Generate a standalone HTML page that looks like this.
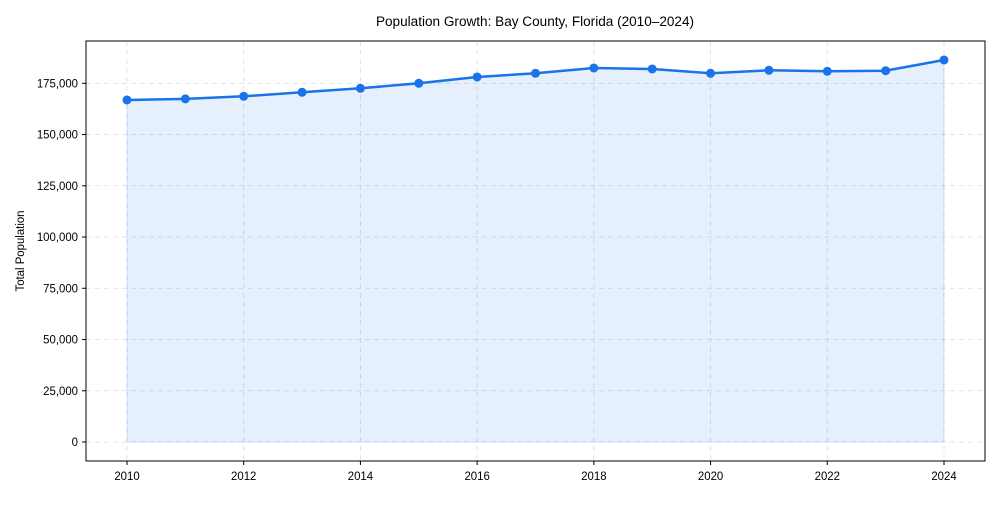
<!DOCTYPE html>
<html><head><meta charset="utf-8"><style>
body{margin:0;background:#fff;}
svg text{font-family:"Liberation Sans Narrow","Liberation Sans",sans-serif;fill:#000;}
</style></head><body>
<svg id="chart" width="1000" height="500" xmlns="http://www.w3.org/2000/svg">
<text transform="translate(535,26) scale(0.97,1)" text-anchor="middle" font-size="14">Population Growth: Bay County, Florida (2010–2024)</text>
<text transform="translate(24,251) rotate(-90) scale(0.95,1)" text-anchor="middle" font-size="12">Total Population</text>
<g id="grid"></g>
<g id="plot"></g>
<g id="axes"></g>
</svg>
<script>
const years=[2010,2011,2012,2013,2014,2015,2016,2017,2018,2019,2020,2021,2022,2023,2024];
const population=[166860,167400,168660,170620,172570,175000,178080,179890,182470,181980,179890,181350,180860,181150,186380];
const yTicks=[0,25000,50000,75000,100000,125000,150000,175000];
const xTicks=[2010,2012,2014,2016,2018,2020,2022,2024];
const L=86,R=985,T=41,B=461;
const NS='http://www.w3.org/2000/svg';
function x(v){return 127+(v-2010)*(944-127)/14;}
function y(v){return 442-v*(442-83.3)/175000;}
function mk(t,a,p){const e=document.createElementNS(NS,t);for(const k in a)e.setAttribute(k,a[k]);p.appendChild(e);return e;}
const grid=document.getElementById('grid'),plot=document.getElementById('plot'),axes=document.getElementById('axes');
yTicks.forEach(v=>{const l=mk('line',{x1:L,x2:R,y1:y(v),y2:y(v),stroke:'#ddd','stroke-dasharray':'5,4','stroke-width':0.8},grid);


const tk=mk('line',{x1:L-4,x2:L,y1:y(v),y2:y(v),stroke:'#000'},axes);


const t=mk('text',{transform:'translate('+(L-8)+','+(y(v)+4)+') scale(0.95,1)','text-anchor':'end','font-size':12},axes);t.textContent=v.toLocaleString('en-US');

});
xTicks.forEach(v=>{const l=mk('line',{x1:x(v),x2:x(v),y1:T,y2:B,stroke:'#ddd','stroke-dasharray':'5,4','stroke-width':0.8},grid);


const tk=mk('line',{x1:x(v),x2:x(v),y1:B,y2:B+4,stroke:'#000'},axes);


const t=mk('text',{transform:'translate('+x(v)+','+(B+19)+') scale(0.95,1)','text-anchor':'middle','font-size':12},axes);t.textContent=v;

});
let pts=years.map((yr,i)=>x(yr)+','+y(population[i]));
const area=mk('polygon',{points:x(years[0])+','+y(0)+' '+pts.join(' ')+' '+x(years[years.length-1])+','+y(0),fill:'#1a73e8','fill-opacity':0.11,stroke:'#1a73e8','stroke-opacity':0.15},plot);


const line=mk('polyline',{points:pts.join(' '),fill:'none',stroke:'#1a73e8','stroke-width':2.5},plot);


years.forEach((yr,i)=>{const c=mk('circle',{cx:x(yr),cy:y(population[i]),r:4.5,fill:'#1a73e8'},plot);

});
const f=mk('rect',{x:L,y:T,width:R-L,height:B-T,fill:'none',stroke:'#000','stroke-width':1},axes);


</script>
</body></html>
